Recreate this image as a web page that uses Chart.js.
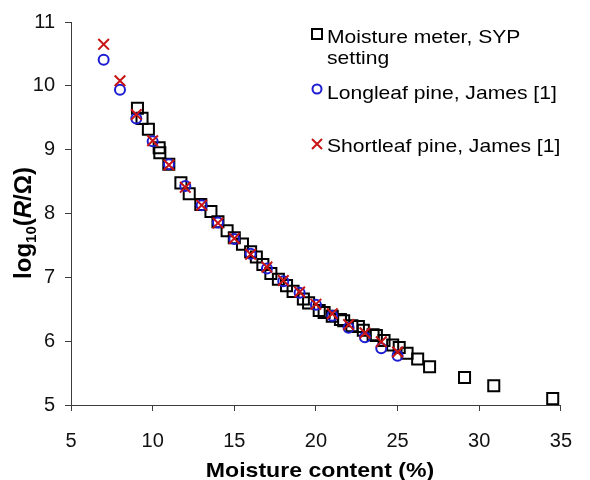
<!DOCTYPE html>
<html>
<head>
<meta charset="utf-8">
<script src="https://cdn.jsdelivr.net/npm/chart.js@4"></script>
<style>
  html, body { margin: 0; padding: 0; background: #fff; }
</style>
</head>
<body>
<canvas id="chart" width="590" height="480"></canvas>
<script>
// moisture meter readings (SYP setting)
const meterMC = [9.07, 9.35, 9.74, 10.40, 10.44, 10.99, 11.73, 12.24, 12.95, 13.57, 14.0, 14.56, 15.0, 15.5, 16.0, 16.35, 16.75, 17.24, 17.7, 18.2, 18.6, 19.23, 19.55, 20.2, 20.5, 21.0, 21.5, 21.7, 22.2, 22.6, 22.9, 23.5, 23.7, 24.17, 24.7, 25.1, 25.58, 26.23, 26.96, 29.1, 30.89, 34.5];
const meterLogR = [9.65, 9.49, 9.32, 9.03, 8.95, 8.77, 8.48, 8.31, 8.14, 8.03, 7.87, 7.73, 7.62, 7.52, 7.40, 7.32, 7.20, 7.06, 6.97, 6.87, 6.78, 6.66, 6.60, 6.48, 6.45, 6.39, 6.34, 6.32, 6.24, 6.23, 6.17, 6.10, 6.09, 6.01, 5.94, 5.90, 5.81, 5.72, 5.60, 5.43, 5.30, 5.10];

// James [1]
const jamesMC = [7, 8, 9, 10, 11, 12, 13, 14, 15, 16, 17, 18, 19, 20, 21, 22, 23, 24, 25];
const longleafLogR = [10.41, 9.94, 9.49, 9.13, 8.77, 8.43, 8.13, 7.86, 7.60, 7.37, 7.14, 6.94, 6.76, 6.57, 6.40, 6.21, 6.06, 5.89, 5.77];
const shortleafLogR = [10.65, 10.08, 9.55, 9.14, 8.76, 8.41, 8.13, 7.85, 7.61, 7.36, 7.16, 6.95, 6.77, 6.58, 6.43, 6.26, 6.13, 5.99, 5.83];

const xTicks = [5, 10, 15, 20, 25, 30, 35];
const yTicks = [5, 6, 7, 8, 9, 10, 11];

const toPts = (xs, ys) => xs.map((x, i) => ({ x, y: ys[i] }));

const axisColor = "#3c3c3c";
const blue = "#1c1cd2";
const red = "#c81414";
const FONT = "'Liberation Sans', Arial, sans-serif";

// titles + legend drawn by hand (subscript, italic R, placement inside plot)
const annotations = {
  id: "annotations",
  afterDraw(chart) {
    const ctx = chart.ctx;
    ctx.save();
    ctx.fillStyle = "#000";
    ctx.textBaseline = "alphabetic";

    // x title
    ctx.save();
    ctx.font = `bold 21px ${FONT}`;
    ctx.textAlign = "center";
    ctx.translate(320, 477);
    ctx.scale(1.1, 1);
    ctx.fillText("Moisture content (%)", 0, 0);
    ctx.restore();

    // y title: log10(R/Ω)
    ctx.save();
    ctx.translate(31, 223);
    ctx.rotate(-Math.PI / 2);
    const parts = [
      { t: "log", f: `bold 24px ${FONT}`, dy: 0 },
      { t: "10", f: `bold 15px ${FONT}`, dy: 5 },
      { t: "(", f: `bold 24px ${FONT}`, dy: 0 },
      { t: "R", f: `italic bold 24px ${FONT}`, dy: 0 },
      { t: "/Ω)", f: `bold 24px ${FONT}`, dy: 0 },
    ];
    let total = 0;
    parts.forEach((p) => { ctx.font = p.f; p.w = ctx.measureText(p.t).width; total += p.w; });
    let cx = -total / 2;
    ctx.textAlign = "left";
    parts.forEach((p) => { ctx.font = p.f; ctx.fillText(p.t, cx, p.dy); cx += p.w; });
    ctx.restore();

    // legend
    const lx = 317;
    ctx.lineWidth = 2;
    ctx.strokeStyle = "#000";
    ctx.strokeRect(lx - 5, 29, 10, 10);
    ctx.strokeStyle = blue;
    ctx.beginPath();
    ctx.arc(lx, 89, 4.5, 0, Math.PI * 2);
    ctx.stroke();
    ctx.strokeStyle = red;
    ctx.beginPath();
    ctx.moveTo(lx - 5, 139); ctx.lineTo(lx + 5, 149);
    ctx.moveTo(lx + 5, 139); ctx.lineTo(lx - 5, 149);
    ctx.stroke();

    ctx.font = `19px ${FONT}`;
    ctx.textAlign = "left";
    const legendText = [
      ["Moisture meter, SYP", 42.5],
      ["setting", 63.5],
      ["Longleaf pine, James [1]", 99],
      ["Shortleaf pine, James [1]", 151.5],
    ];
    legendText.forEach(([t, y]) => {
      ctx.save();
      ctx.translate(327, y);
      ctx.scale(1.11, 1);
      ctx.fillText(t, 0, 0);
      ctx.restore();
    });
    ctx.restore();
  },
};

new Chart(document.getElementById("chart").getContext("2d"), {
  type: "scatter",
  data: {
    datasets: [
      {
        label: "Moisture meter, SYP setting",
        data: toPts(meterMC, meterLogR),
        pointStyle: "rect",
        pointRadius: 7.8,
        borderColor: "#000",
        backgroundColor: "rgba(0,0,0,0)",
        borderWidth: 2,
        order: 2,
      },
      {
        label: "Longleaf pine, James [1]",
        data: toPts(jamesMC, longleafLogR),
        pointStyle: "circle",
        pointRadius: 5,
        borderColor: blue,
        backgroundColor: "rgba(0,0,0,0)",
        borderWidth: 2,
        order: 1,
      },
      {
        label: "Shortleaf pine, James [1]",
        data: toPts(jamesMC, shortleafLogR),
        pointStyle: "crossRot",
        pointRadius: 7.5,
        borderColor: red,
        backgroundColor: red,
        borderWidth: 2,
        order: 0,
      },
    ],
  },
  options: {
    responsive: false,
    animation: false,
    layout: { padding: { top: 20, right: 15, left: 0, bottom: 0 } },
    plugins: {
      legend: { display: false },
      tooltip: { enabled: false },
    },
    scales: {
      x: {
        type: "linear",
        min: 5,
        max: 35,
        afterBuildTicks: (s) => { s.ticks = xTicks.map((v) => ({ value: v })); },
        afterFit: (s) => { s.height = 75; },
        ticks: {
          color: "#111",
          padding: 18,
          font: { family: FONT, size: 20 },
        },
        grid: { drawOnChartArea: false, tickLength: 6, color: axisColor, tickWidth: 1 },
        border: { color: axisColor, width: 1 },
      },
      y: {
        type: "linear",
        min: 5,
        max: 11,
        afterBuildTicks: (s) => { s.ticks = yTicks.map((v) => ({ value: v })); },
        afterFit: (s) => { s.width = 71; },
        ticks: {
          color: "#111",
          padding: 10,
          font: { family: FONT, size: 20 },
        },
        grid: { drawOnChartArea: false, tickLength: 6, color: axisColor, tickWidth: 1 },
        border: { color: axisColor, width: 1 },
      },
    },
  },
  plugins: [annotations],
});
</script>
</body>
</html>
